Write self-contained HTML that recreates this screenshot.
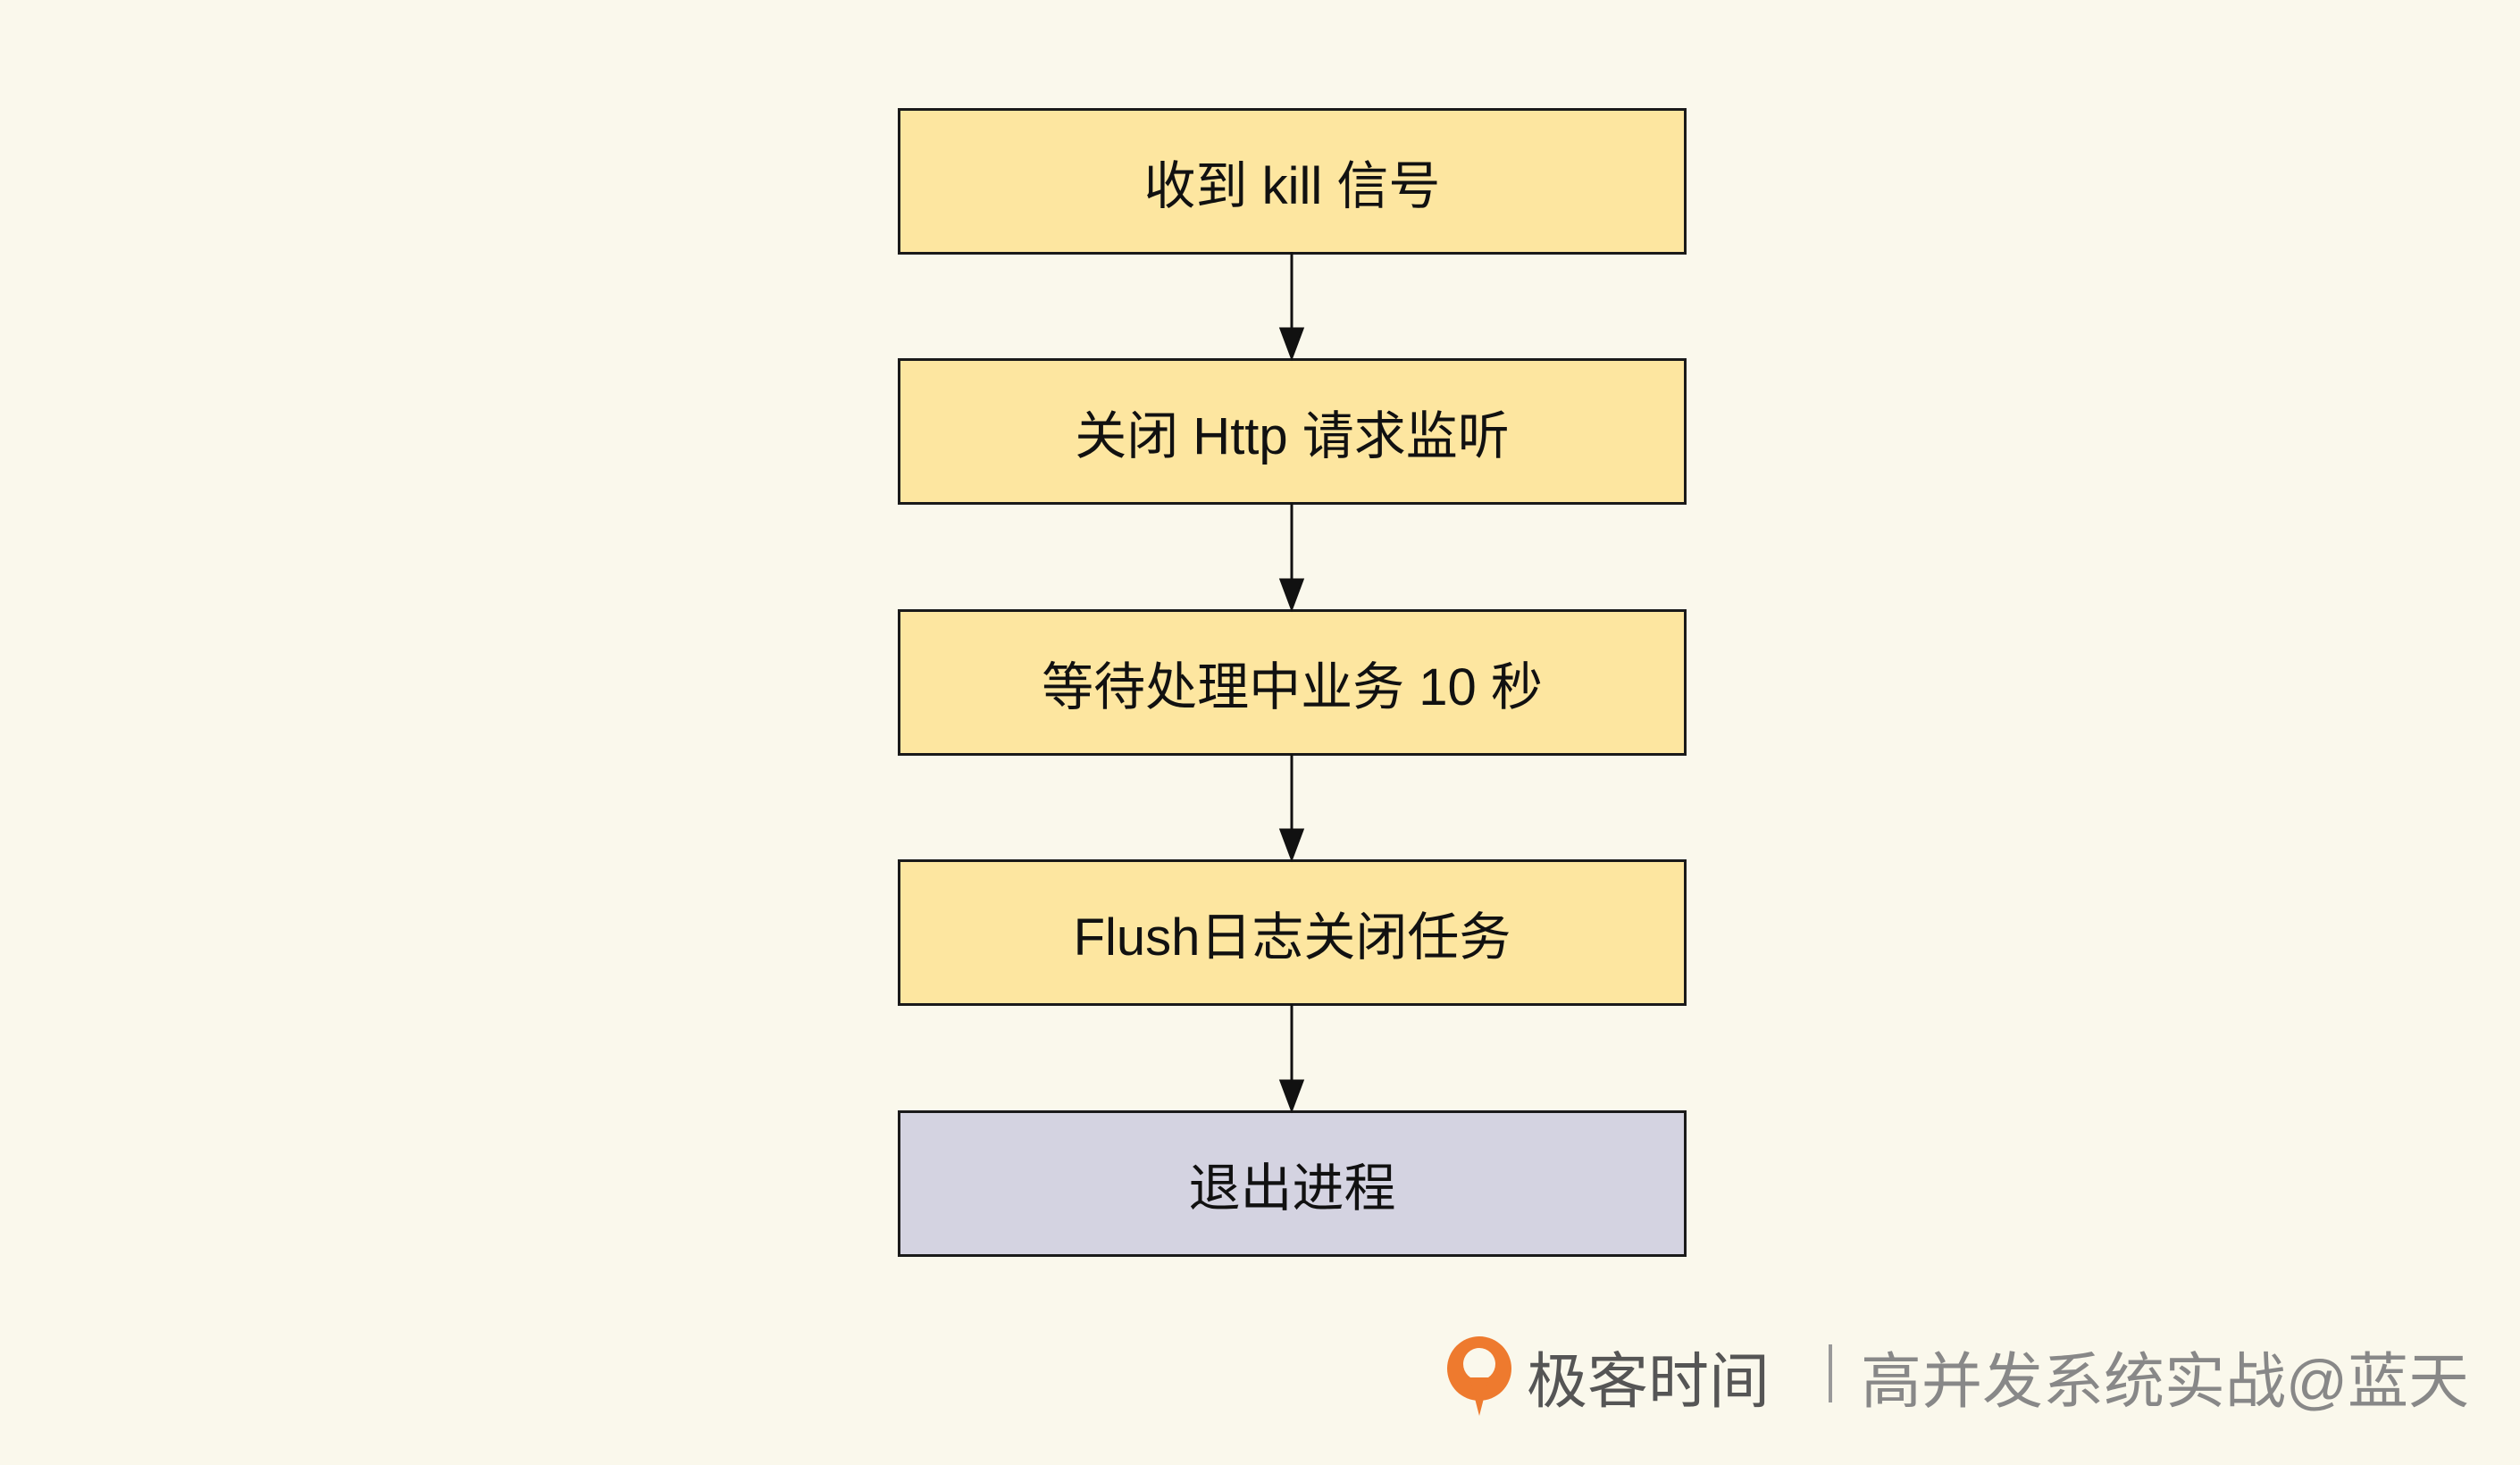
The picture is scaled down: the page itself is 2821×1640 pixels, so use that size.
<!DOCTYPE html>
<html><head><meta charset="utf-8"><style>
html,body{margin:0;padding:0;background:#faf8ec;}
body{width:2821px;height:1640px;position:relative;overflow:hidden;font-family:"Liberation Sans","Noto Sans CJK SC",sans-serif;}
.b{position:absolute;left:1005px;width:877px;height:158px;border:3px solid #1a1a1a;background:#fde6a0;display:flex;align-items:center;justify-content:center;font-size:58px;color:#111;}
.wm{position:absolute;top:1491px;font-size:68px;color:#666;white-space:nowrap;}
</style></head><body>
<div class="b" style="top:121px">收到 kill 信号</div>
<div class="b" style="top:401px">关闭 Http 请求监听</div>
<div class="b" style="top:682px">等待处理中业务 10 秒</div>
<div class="b" style="top:962px">Flush日志关闭任务</div>
<div class="b" style="top:1243px;background:#d4d3e1">退出进程</div>
<svg width="2821" height="1640" style="position:absolute;left:0;top:0">
<g stroke="#111" stroke-width="3" fill="#111">
<line x1="1446" y1="282" x2="1446" y2="372"/><polygon points="1434,368 1458,368 1446,400"/>
<line x1="1446" y1="563" x2="1446" y2="653"/><polygon points="1434,649 1458,649 1446,681"/>
<line x1="1446" y1="844" x2="1446" y2="933"/><polygon points="1434,929 1458,929 1446,961"/>
<line x1="1446" y1="1124" x2="1446" y2="1214"/><polygon points="1434,1210 1458,1210 1446,1242"/>
</g>
<circle cx="1656" cy="1532" r="36" fill="#ee7a2e"/>
<circle cx="1656" cy="1527" r="18" fill="#faf8ec"/>
<polygon points="1645,1542 1667,1542 1656,1585" fill="#ee7a2e"/>
<line x1="2049" y1="1505" x2="2049" y2="1570" stroke="#999" stroke-width="4"/>
</svg>
<div class="wm" style="left:1709px;color:#555">极客时间</div>
<div class="wm" style="left:2083px;color:#888">高并发系统实战@蓝天</div>
</body></html>
